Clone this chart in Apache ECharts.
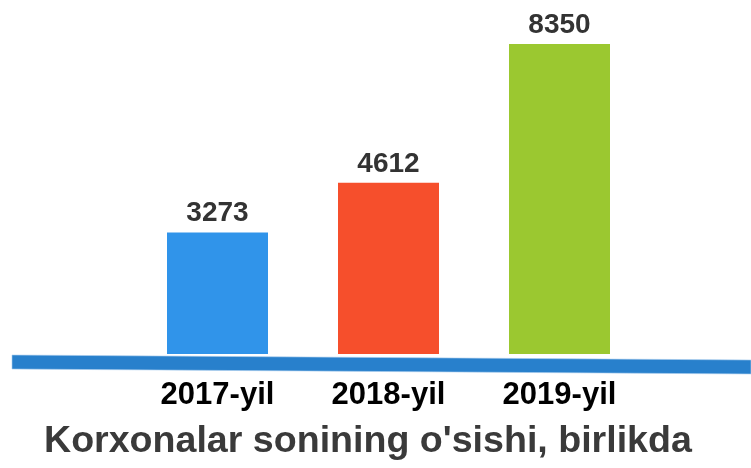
<!DOCTYPE html>
<html>
<head>
<meta charset="utf-8">
<script src="https://cdn.jsdelivr.net/npm/echarts@6/dist/echarts.min.js"></script>
<style>
  html, body { margin: 0; padding: 0; background: #fff; }
  #chart { width: 751px; height: 468px; }
</style>
</head>
<body>
<div id="chart"></div>
<script>
// data
const categories = ["2017-yil", "2018-yil", "2019-yil"];
const values = [3273, 4612, 8350];
const barColors = ["#3094ea", "#f64f2c", "#9bc830"];
const titleText = "Korxonalar sonining o'sishi, birlikda";

const chart = echarts.init(document.getElementById("chart"));

const option = {
    animation: false,
    backgroundColor: "#fff",
    title: {
        text: titleText,
        left: 39,
        bottom: 2,
        textStyle: {
            fontFamily: "Liberation Sans, Arial, sans-serif",
            fontSize: 37.6,
            fontWeight: "bold",
            color: "#3a3a3a"
        }
    },
    grid: { left: 132, right: 106, top: 20, bottom: 114 },
    xAxis: {
        type: "category",
        data: categories,
        axisLine: { show: false },
        axisTick: { show: false },
        axisLabel: {
            margin: 26,
            fontFamily: "Liberation Sans, Arial, sans-serif",
            fontSize: 31,
            fontWeight: "bold",
            color: "#000"
        }
    },
    yAxis: {
        type: "value",
        min: 0,
        max: 9000,
        show: false,
        splitLine: { show: false }
    },
    series: [{
        type: "bar",
        barWidth: 101,
        data: values.map((v, i) => ({ value: v, itemStyle: { color: barColors[i] } })),
        label: {
            show: true,
            position: "top",
            distance: 5,
            fontFamily: "Liberation Sans, Arial, sans-serif",
            fontSize: 28,
            fontWeight: "bold",
            color: "#333"
        }
    }],
    // tilted blue ribbon under the bars
    graphic: [{
        type: "polygon",
        shape: { points: [[12, 355], [751, 360], [751, 374], [12, 369]] },
        style: { fill: "#2880cc", stroke: "#a9cdee", lineWidth: 0.6 },
        z: 10
    }]
};

chart.setOption(option);
</script>
</body>
</html>
